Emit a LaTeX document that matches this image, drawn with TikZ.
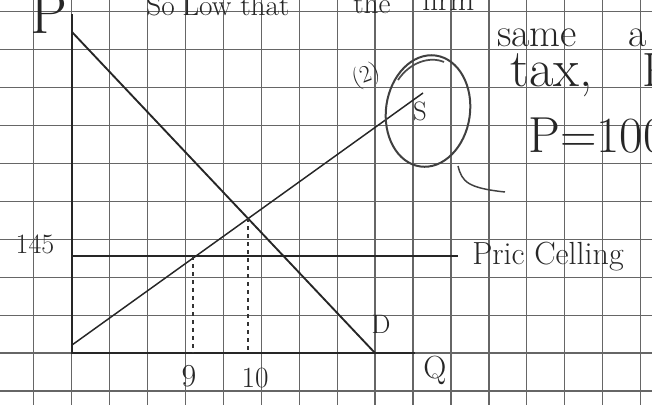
\documentclass[tikz,border=0pt]{standalone}
\usepackage{fontspec}
\usetikzlibrary{calc}
\tikzset{
  gridline/.style = {draw = black!60, line width = .9pt},
  axisline/.style = {draw = black!85, line width = 1.7pt},
  curve/.style = {draw = black!85, line width = 1.4pt},
  hand/.style = {inner sep = 0pt, text = black!85},
}
\newcommand\fs[1]{\fontsize{#1}{#1}\selectfont}
\begin{document}
\begin{tikzpicture}[x = .75pt, y = -.75pt]
  \useasboundingbox (0,0) rectangle (652,405);
  \clip (0,0) rectangle (652,405);
  \fill [white] (0,0) rectangle (652,405);
  % squared paper
  \foreach \i in {0,...,16}
    \draw [gridline] (33.5+37.95*\i,0) -- (33.5+37.95*\i,405);
  \foreach \j in {0,...,10}
    \draw [gridline] (0,11.5+37.95*\j) -- (652,11.5+37.95*\j);
  % axes
  \coordinate (O) at (72,353);
  \coordinate (ytop) at (72,14);
  \coordinate (xend) at (415,353);
  \draw [axisline] (ytop) -- (O) -- (xend);
  % demand, supply and the ceiling
  \coordinate (d1) at (72,32);
  \coordinate (d2) at (375,353);
  \coordinate (s1) at (72,345);
  \coordinate (s2) at (423,93);
  \coordinate (c1) at (72,256);
  \coordinate (c2) at (458,256);
  \draw [curve] (d1) -- (d2);
  \draw [curve, line width = 1.1pt] (s1) -- (s2);
  \draw [curve] (c1) -- (c2);
  \coordinate (qs) at (193,256);
  \coordinate (eq) at (248,218);
  \draw [dashed, black!80, line width = 1pt] (qs) -- (qs |- O);
  \draw [dashed, black!80, line width = .8pt] (eq) -- (eq |- O);
  % labels
  \node [hand, font = \fs{21}] (p145) at (35,244) {145};
  \node [hand, font = \fs{24}] (q9) at (189,376) {9};
  \node [hand, font = \fs{22}] (q10) at (255,378) {10};
  \node [hand, font = \fs{20}] (dlab) at (381,324) {D};
  \node [hand, font = \fs{24}] (qlab) at (435,370) {Q};
  \node [hand, font = \fs{20}] (slab) at (420,111) {S};
  \node [hand, font = \fs{24}, anchor = west]
    (ceil) at (472,257) {Pric Celling};
  \node [hand, font = \fs{18}, rotate = 20]
    (two) at (366,76) {(2)};
  % circled S
  \draw [curve, line width = 1.5pt, black!75, rotate around = {-8:(428,111)}]
    (428,111) ellipse (42 and 56);
  \draw [curve, line width = 1.3pt, black!70]
    (398,80) .. controls (410,62) and (430,56) .. (444,62);
  \draw [curve, line width = 1.1pt, black!75]
    (458,166) .. controls (462,182) and (468,188) .. (505,192);
  % notes, cut at the edges
  \node [hand, font = \fs{44}, anchor = base west]
    (pax) at (30,33) {P};
  \node [hand, font = \fs{22}, anchor = base west]
    (nso) at (146,15) {So};
  \node [hand, font = \fs{22}, anchor = base west]
    (nlow) at (182,15) {Low that};
  \node [hand, font = \fs{22}, anchor = base west]
    (nthe) at (353,13) {the};
  \node [hand, font = \fs{24}, anchor = base west]
    (nfirm) at (422,10) {firm};
  \node [hand, font = \fs{30}, anchor = base west]
    (nsame) at (497,46) {same};
  \node [hand, font = \fs{30}, anchor = base west]
    (na) at (628,46) {a};
  \node [hand, font = \fs{40}, anchor = base west]
    (ntax) at (510,86) {tax,};
  \node [hand, font = \fs{36}, anchor = base west]
    (np) at (642,86) {P};
  \node [hand, font = \fs{38}, anchor = base west]
    (nprice) at (528,152) {P=100};
\end{tikzpicture}
\end{document}
